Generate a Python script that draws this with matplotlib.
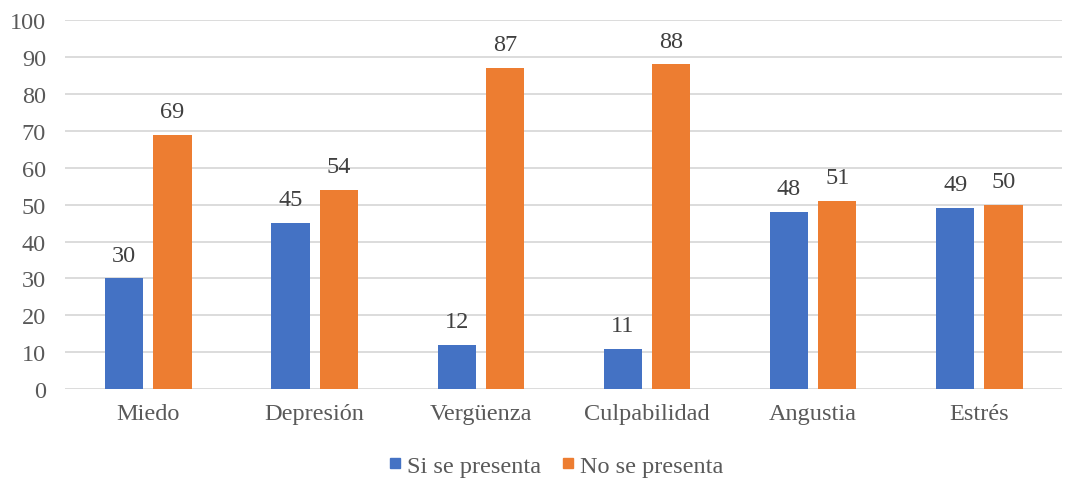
import numpy as np
import matplotlib.pyplot as plt
from matplotlib.lines import Line2D

categories = ['Miedo', 'Depresión', 'Vergüenza', 'Culpabilidad', 'Angustia', 'Estrés']
si_presenta = [30, 45, 12, 11, 48, 49]
no_presenta = [69, 54, 87, 88, 51, 50]
series_names = ['Si se presenta', 'No se presenta']
colors = ['#4472C4', '#ED7D31']
text_color = '#595959'

plt.rcParams['font.family'] = ['Liberation Serif', 'DejaVu Serif']
fs = 17.5

fig = plt.figure(figsize=(10.71, 4.81), dpi=100)
ax = fig.add_axes([0.061, 0.189, 0.931, 0.767])

x = np.arange(len(categories))
w = 0.23
off = 0.145
b1 = ax.bar(x - off, si_presenta, w, color=colors[0], zorder=3)
b2 = ax.bar(x + off, no_presenta, w, color=colors[1], zorder=3)

for bars, vals in ((b1, si_presenta), (b2, no_presenta)):
    for rect, v in zip(bars, vals):
        ax.text(rect.get_x() + rect.get_width() / 2, v + 3.5, str(v),
                ha='center', va='bottom', fontsize=fs, color='#404040')

ax.set_xlim(-0.5, len(categories) - 0.5)
ax.set_ylim(0, 100)
ax.set_yticks(range(0, 101, 10))
ax.yaxis.grid(True, color='#D9D9D9', linewidth=1.3, zorder=0)
for s in ax.spines.values():
    s.set_visible(False)
ax.tick_params(axis='both', length=0, labelsize=fs, colors=text_color)
ax.tick_params(axis='x', pad=10)
ax.tick_params(axis='y', pad=14)
ax.set_xticks(x)
ax.set_xticklabels(categories)

handles = [Line2D([], [], marker='s', linestyle='', markersize=7.5, color=c) for c in colors]
leg = fig.legend(handles, series_names, loc='center', bbox_to_anchor=(0.515, 0.03),
                 ncol=2, frameon=False, fontsize=fs, handletextpad=-0.1,
                 handlelength=1.2, columnspacing=0.5)
for t in leg.get_texts():
    t.set_color(text_color)

fig.savefig('out.png', dpi=100)
